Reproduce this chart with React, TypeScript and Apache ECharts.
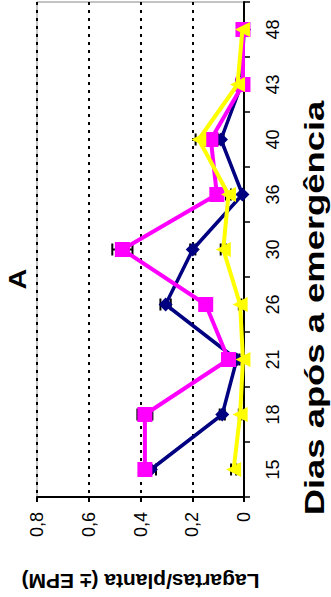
import React, { useEffect, useRef } from 'react';
import * as echarts from 'echarts';

const days = ['15', '18', '21', '26', '30', '36', '40', '43', '48'];
const valueTicks = [0, 0.2, 0.4, 0.6, 0.8];

const navyValues = [0.36, 0.084, 0.028, 0.303, 0.198, 0.006, 0.089, 0.01, 0.0];
const navyErrors = [0.02, 0.01, 0.01, 0.02, 0.01, 0, 0.01, 0, 0];

const pinkValues = [0.383, 0.383, 0.06, 0.148, 0.47, 0.105, 0.128, 0.004, 0.004];
const pinkErrors = [0.02, 0.029, 0.01, 0.01, 0.039, 0.01, 0.01, 0, 0];

const yellowValues = [0.04, 0.015, 0.004, 0.015, 0.08, 0.06, 0.175, 0.025, 0.006];
const yellowErrors = [0.01, 0.005, 0.005, 0.005, 0.01, 0.01, 0.012, 0.005, 0];

const xTitle = 'Lagartas/planta (± EPM)';
const yTitle = 'Dias após a emergência';
const panelLabel = 'A';

const FONT = '"Liberation Sans", Arial, Helvetica, sans-serif';

function errorSeries(values: number[], errors: number[]) {
  return {
    type: 'custom',
    coordinateSystem: 'cartesian2d',
    z: 1,
    silent: true,
    encode: { x: 0, y: 1 },
    data: values.map((v, i) => [v, days[i], errors[i]]),
    renderItem: (params: any, api: any) => {
      const v = api.value(0);
      const c = api.value(1);
      const e = api.value(2);
      if (!e) return null;
      const lo = api.coord([Math.max(0, v - e), c]);
      const hi = api.coord([v + e, c]);
      const h = 12;
      const st = { stroke: '#000', lineWidth: 2 };
      return {
        type: 'group',
        children: [
          { type: 'line', shape: { x1: lo[0], y1: lo[1], x2: hi[0], y2: hi[1] }, style: st },
          { type: 'line', shape: { x1: lo[0], y1: lo[1] - h / 2, x2: lo[0], y2: lo[1] + h / 2 }, style: st },
          { type: 'line', shape: { x1: hi[0], y1: hi[1] - h / 2, x2: hi[0], y2: hi[1] + h / 2 }, style: st },
        ],
      };
    },
  };
}

export default function App() {
  const ref = useRef<HTMLDivElement>(null);
  useEffect(() => {
    document.body.style.margin = '0';
    const chart = echarts.init(ref.current!, null, { renderer: 'svg' });
    chart.setOption({
      animation: false,
      backgroundColor: '#fff',
      grid: {
        left: 37,
        right: 87,
        top: 2,
        bottom: 100,
        show: true,
        borderColor: '#888',
        borderWidth: 1,
      },
      xAxis: {
        type: 'value',
        min: 0,
        max: 0.8,
        interval: 0.2,
        inverse: true,
        position: 'bottom',
        name: xTitle,
        nameLocation: 'middle',
        nameGap: 74,
        nameRotate: 180,
        nameTextStyle: { fontFamily: FONT, fontWeight: 'bold', fontSize: 21, color: '#000' },
        axisLine: { show: true, lineStyle: { color: '#000', width: 2 } },
        axisTick: { show: true, length: 5, lineStyle: { color: '#000', width: 2 } },
        axisLabel: {
          rotate: 90,
          margin: 15,
          fontFamily: FONT,
          fontSize: 18,
          color: '#000',
          formatter: (v: number) => {
            const t = valueTicks.find((x) => Math.abs(x - v) < 1e-6);
            const val = t === undefined ? v : t;
            return val === 0 ? '0' : val.toFixed(1).replace('.', ',');
          },
        },
        splitLine: { show: true, lineStyle: { color: '#000', width: 2, type: [3, 5] } },
      },
      yAxis: {
        type: 'category',
        data: days,
        position: 'right',
        boundaryGap: true,
        axisLine: { show: true, lineStyle: { color: '#000', width: 2 } },
        axisTick: { show: true, length: 6, lineStyle: { color: '#000', width: 1.5 } },
        axisLabel: { rotate: 90, margin: 20, fontFamily: FONT, fontSize: 18, color: '#000' },
        splitLine: { show: false },
      },
      graphic: [
        {
          type: 'text',
          x: 18,
          y: 279,
          rotation: Math.PI / 2,
          scaleX: 1.2,
          style: {
            text: panelLabel,
            font: `bold 24px ${FONT}`,
            fill: '#000',
            align: 'center',
            verticalAlign: 'middle',
            textAlign: 'center',
            textVerticalAlign: 'middle',
          },
        },
        {
          type: 'text',
          x: 315,
          y: 308,
          rotation: Math.PI / 2,
          scaleX: 1.3,
          style: {
            text: yTitle,
            font: `bold 28px ${FONT}`,
            fill: '#000',
            align: 'center',
            verticalAlign: 'middle',
            textAlign: 'center',
            textVerticalAlign: 'middle',
          },
        },
      ],
      series: [
        errorSeries(navyValues, navyErrors),
        errorSeries(pinkValues, pinkErrors),
        errorSeries(yellowValues, yellowErrors),
        {
          type: 'line',
          z: 2,
          data: navyValues.map((v, i) => [v, days[i]]),
          symbol: 'diamond',
          symbolSize: 14,
          showAllSymbol: true,
          lineStyle: { color: '#000080', width: 3.5 },
          itemStyle: { color: '#000080' },
        },
        {
          type: 'line',
          z: 3,
          data: pinkValues.map((v, i) => [v, days[i]]),
          symbol: 'rect',
          symbolSize: 15,
          showAllSymbol: true,
          lineStyle: { color: '#FF00FF', width: 4 },
          itemStyle: { color: '#FF00FF' },
        },
        {
          type: 'line',
          z: 4,
          data: yellowValues.map((v, i) => [v, days[i]]),
          symbol: 'triangle',
          symbolSize: 15,
          symbolRotate: 90,
          showAllSymbol: true,
          lineStyle: { color: '#FFFF00', width: 4 },
          itemStyle: { color: '#FFFF00' },
        },
      ],
    });
    return () => chart.dispose();
  }, []);
  return <div ref={ref} style={{ width: 331, height: 597 }} />;
}
